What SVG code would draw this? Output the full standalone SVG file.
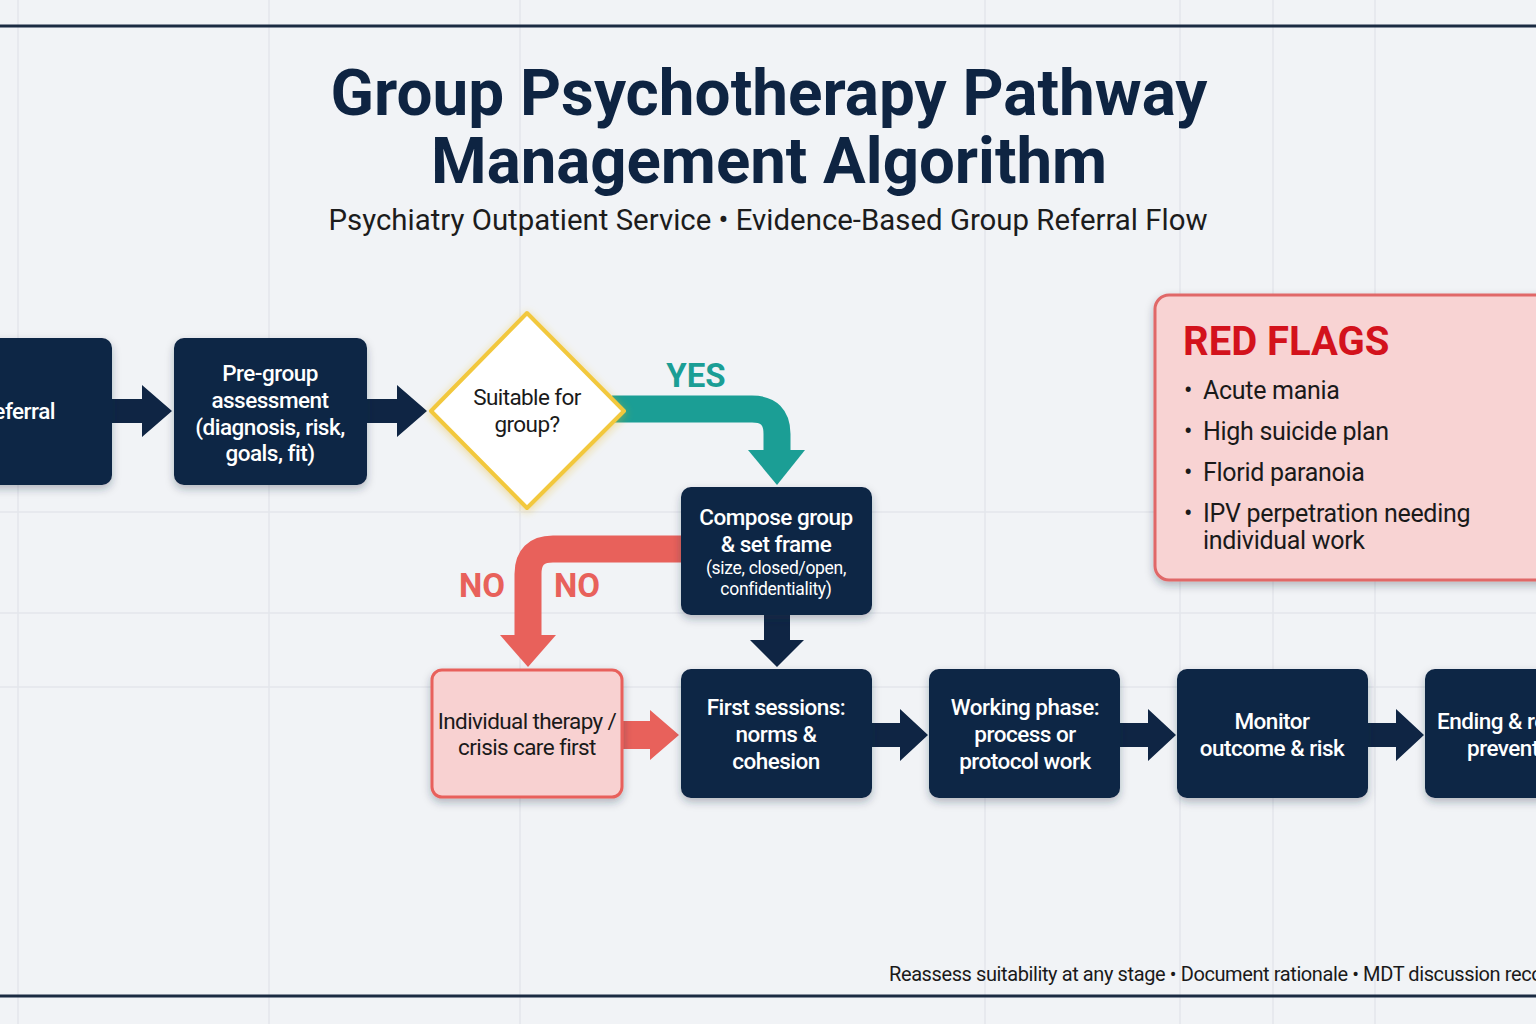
<svg xmlns="http://www.w3.org/2000/svg" width="1536" height="1024" viewBox="0 0 1536 1024">
<defs>
<style>
.t{font-family:Roboto,"Liberation Sans",sans-serif}
.title{font-weight:700;font-size:64px;fill:#0e2442;text-anchor:middle}
.sub{font-size:30px;fill:#1c1c1c;text-anchor:middle}
.nav{fill:#0f2544}
.wt{font-size:22.5px;fill:#ffffff;text-anchor:middle;font-weight:500;letter-spacing:-0.5px}
.ws{font-size:17.5px;fill:#ffffff;text-anchor:middle;letter-spacing:-0.3px}
.dk{font-size:22.5px;fill:#1a1a1a;text-anchor:middle;letter-spacing:-0.6px}
.grid{stroke:#e3e6eb;stroke-width:1.5}
.lab{font-weight:700;font-size:33px}
.rf{font-size:25px;fill:#1a1a1a;letter-spacing:-0.3px}
</style>
<filter id="sh" x="-20%" y="-20%" width="140%" height="150%">
<feDropShadow dx="0" dy="4" stdDeviation="4" flood-color="#1a2a40" flood-opacity="0.3"/>
</filter>
<filter id="glow" x="-30%" y="-30%" width="160%" height="160%">
<feDropShadow dx="0" dy="2" stdDeviation="4" flood-color="#e8b820" flood-opacity="0.45"/>
</filter>
</defs>
<rect width="1536" height="1024" fill="#f1f3f6"/>
<g id="grid">
<line class="grid" x1="18" y1="0" x2="18" y2="1024"/>
<line class="grid" x1="269" y1="0" x2="269" y2="1024"/>
<line class="grid" x1="520" y1="0" x2="520" y2="1024"/>
<line class="grid" x1="985" y1="0" x2="985" y2="1024"/>
<line class="grid" x1="1180" y1="0" x2="1180" y2="1024"/>
<line class="grid" x1="1273" y1="0" x2="1273" y2="1024"/>
<line class="grid" x1="1375" y1="0" x2="1375" y2="1024"/>
<line class="grid" x1="0" y1="512" x2="1536" y2="512"/>
<line class="grid" x1="0" y1="613" x2="1536" y2="613"/>
<line class="grid" x1="0" y1="687" x2="1536" y2="687"/>
</g>
<line x1="0" y1="26" x2="1536" y2="26" stroke="#1b2b42" stroke-width="3"/>
<line x1="0" y1="996" x2="1536" y2="996" stroke="#1b2b42" stroke-width="3"/>

<g id="title">
<text class="t title" x="769" y="115" textLength="877" lengthAdjust="spacingAndGlyphs">Group Psychotherapy Pathway</text>
<text class="t title" x="769" y="183" textLength="676" lengthAdjust="spacingAndGlyphs">Management Algorithm</text>
<text class="t sub" x="768" y="230" textLength="879" lengthAdjust="spacingAndGlyphs">Psychiatry Outpatient Service • Evidence-Based Group Referral Flow</text>
</g>

<g id="connectors">
<polygon class="nav" points="110,399 142,399 142,385 172,411 142,437 142,423 110,423"/>
<polygon class="nav" points="364,399 397,399 397,385 427,411 397,437 397,423 364,423"/>
<path d="M612 409 H752 Q777 409 777 434 V452" fill="none" stroke="#1b9e95" stroke-width="27"/>
<polygon fill="#1b9e95" points="748,450 805,450 777,485"/>
<path d="M683 549 H553 Q528 549 528 574 V637" fill="none" stroke="#e8615b" stroke-width="27"/>
<polygon fill="#e8615b" points="500,635 556,635 528,667"/>
<polygon class="nav" points="764,613 790,613 790,640 804,640 777,667 750,640 764,640"/>
<polygon fill="#e8615b" points="621,721 650,721 650,710 679,735 650,760 650,749 621,749"/>
<polygon class="nav" points="870,723 900,723 900,709 928,735 900,761 900,747 870,747"/>
<polygon class="nav" points="1118,723 1148,723 1148,709 1176,735 1148,761 1148,747 1118,747"/>
<polygon class="nav" points="1366,723 1396,723 1396,709 1424,735 1396,761 1396,747 1366,747"/>
<text class="t lab" x="696" y="387" fill="#1b9e95" text-anchor="middle">YES</text>
<text class="t lab" x="482" y="597" fill="#e8615b" text-anchor="middle">NO</text>
<text class="t lab" x="577" y="597" fill="#e8615b" text-anchor="middle">NO</text>
</g>

<g id="referral">
<rect class="nav" x="-90" y="338" width="202" height="147" rx="10" filter="url(#sh)"/>
<text class="t wt" x="55" y="419" style="text-anchor:end">Referral</text>
</g>
<g id="pregroup">
<rect class="nav" x="174" y="338" width="193" height="147" rx="10" filter="url(#sh)"/>
<text class="t wt" x="270" y="381">Pre-group</text>
<text class="t wt" x="270" y="408">assessment</text>
<text class="t wt" x="270" y="435">(diagnosis, risk,</text>
<text class="t wt" x="270" y="461">goals, fit)</text>
</g>
<g id="decision">
<polygon points="527,313 624,411 527,508 431,411" fill="#ffffff" stroke="#f2c83e" stroke-width="4" stroke-linejoin="round" filter="url(#glow)"/>
<text class="t dk" x="527" y="405">Suitable for</text>
<text class="t dk" x="527" y="432">group?</text>
</g>
<g id="compose">
<rect class="nav" x="681" y="487" width="191" height="128" rx="10" filter="url(#sh)"/>
<text class="t wt" x="776" y="525">Compose group</text>
<text class="t wt" x="776" y="552">&amp; set frame</text>
<text class="t ws" x="776" y="574">(size, closed/open,</text>
<text class="t ws" x="776" y="595">confidentiality)</text>
</g>
<g id="individual">
<rect x="432" y="670" width="190" height="127" rx="10" fill="#f8d1d1" stroke="#e8615b" stroke-width="3" filter="url(#sh)"/>
<text class="t dk" x="527" y="729">Individual therapy /</text>
<text class="t dk" x="527" y="755">crisis care first</text>
</g>
<g id="first">
<rect class="nav" x="681" y="669" width="191" height="129" rx="10" filter="url(#sh)"/>
<text class="t wt" x="776" y="715">First sessions:</text>
<text class="t wt" x="776" y="742">norms &amp;</text>
<text class="t wt" x="776" y="769">cohesion</text>
</g>
<g id="working">
<rect class="nav" x="929" y="669" width="191" height="129" rx="10" filter="url(#sh)"/>
<text class="t wt" x="1025" y="715">Working phase:</text>
<text class="t wt" x="1025" y="742">process or</text>
<text class="t wt" x="1025" y="769">protocol work</text>
</g>
<g id="monitor">
<rect class="nav" x="1177" y="669" width="191" height="129" rx="10" filter="url(#sh)"/>
<text class="t wt" x="1272" y="729">Monitor</text>
<text class="t wt" x="1272" y="756">outcome &amp; risk</text>
</g>
<g id="ending">
<rect class="nav" x="1425" y="669" width="191" height="129" rx="10" filter="url(#sh)"/>
<text class="t wt" x="1437" y="729" style="text-anchor:start">Ending &amp; relapse</text>
<text class="t wt" x="1467" y="756" style="text-anchor:start">prevention</text>
</g>
<g id="redflags">
<rect x="1155" y="295" width="420" height="285" rx="14" fill="#f8d3d3" stroke="#e06868" stroke-width="3" filter="url(#sh)"/>
<text class="t" x="1183" y="355" font-size="40" font-weight="700" fill="#d3121c">RED FLAGS</text>
<text class="t rf" x="1184" y="399">•</text><text class="t rf" x="1203" y="399">Acute mania</text>
<text class="t rf" x="1184" y="440">•</text><text class="t rf" x="1203" y="440">High suicide plan</text>
<text class="t rf" x="1184" y="481">•</text><text class="t rf" x="1203" y="481">Florid paranoia</text>
<text class="t rf" x="1184" y="522">•</text><text class="t rf" x="1203" y="522">IPV perpetration needing</text>
<text class="t rf" x="1203" y="549">individual work</text>
</g>
<text class="t" x="889" y="981" font-size="20" letter-spacing="-0.4" fill="#1a1a1a">Reassess suitability at any stage • Document rationale • MDT discussion recommended</text>
</svg>
